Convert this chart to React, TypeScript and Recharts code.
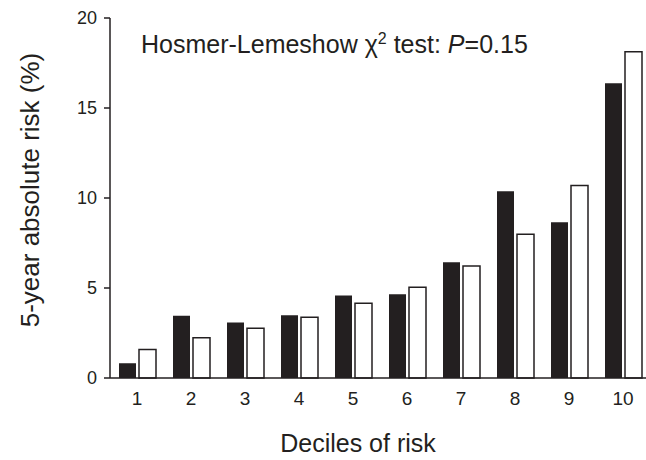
import { BarChart, Bar, XAxis, YAxis } from 'recharts';

const deciles = ['1', '2', '3', '4', '5', '6', '7', '8', '9', '10'];
const observed = [0.82, 3.46, 3.09, 3.48, 4.59, 4.65, 6.43, 10.37, 8.65, 16.37];
const predicted = [1.59, 2.24, 2.76, 3.37, 4.15, 5.04, 6.22, 7.98, 10.7, 18.13];
const yTicks = [0, 5, 10, 15, 20];

const data = deciles.map((d, i) => ({ decile: d, observed: observed[i], predicted: predicted[i] }));

const FONT = '"Liberation Sans", Arial, Helvetica, sans-serif';
const INK = '#231f20';

function YLabel() {
  return (
    <text
      x={30}
      y={190}
      transform="rotate(-90 30 190)"
      textAnchor="middle"
      dominantBaseline="central"
      fill={INK}
      fontSize={26}
      fontFamily={FONT}
    >
      5-year absolute risk (%)
    </text>
  );
}

function XLabel() {
  return (
    <text x={358} y={452} textAnchor="middle" fill={INK} fontSize={25} fontFamily={FONT}>
      Deciles of risk
    </text>
  );
}

export default function App() {
  return (
    <div style={{ position: 'absolute', left: 0, top: 0, width: 646, height: 460, background: '#fff', overflow: 'hidden' }}>
      <BarChart
        width={650}
        height={460}
        data={data}
        margin={{ top: 18, right: 0, bottom: 0, left: 0 }}
        barSize={17}
        barGap={3}
      >
        <XAxis
          dataKey="decile"
          height={82}
          tickLine={false}
          tickMargin={8}
          axisLine={{ stroke: INK, strokeWidth: 1.5 }}
          tick={{ fill: INK, fontSize: 19, fontFamily: FONT }}
          label={{ content: () => <XLabel /> }}
        />
        <YAxis
          width={110}
          domain={[0, 20]}
          ticks={yTicks}
          tickSize={6}
          tickMargin={7}
          axisLine={{ stroke: INK, strokeWidth: 1.5 }}
          tickLine={{ stroke: INK, strokeWidth: 1.5 }}
          tick={{ fill: INK, fontSize: 18, fontFamily: FONT }}
          label={{ content: () => <YLabel /> }}
        />
        <Bar dataKey="observed" fill={INK} isAnimationActive={false} />
        <Bar dataKey="predicted" fill="#fff" stroke={INK} strokeWidth={1.5} isAnimationActive={false} />
      </BarChart>
      <div
        style={{
          position: 'absolute',
          left: 141,
          top: 32,
          fontFamily: FONT,
          fontSize: 25,
          color: INK,
          whiteSpace: 'nowrap',
          lineHeight: '25px',
        }}
      >
        Hosmer-Lemeshow χ<sup style={{ fontSize: 16, lineHeight: 0 }}>2</sup> test: <i>P</i>=0.15
      </div>
    </div>
  );
}
